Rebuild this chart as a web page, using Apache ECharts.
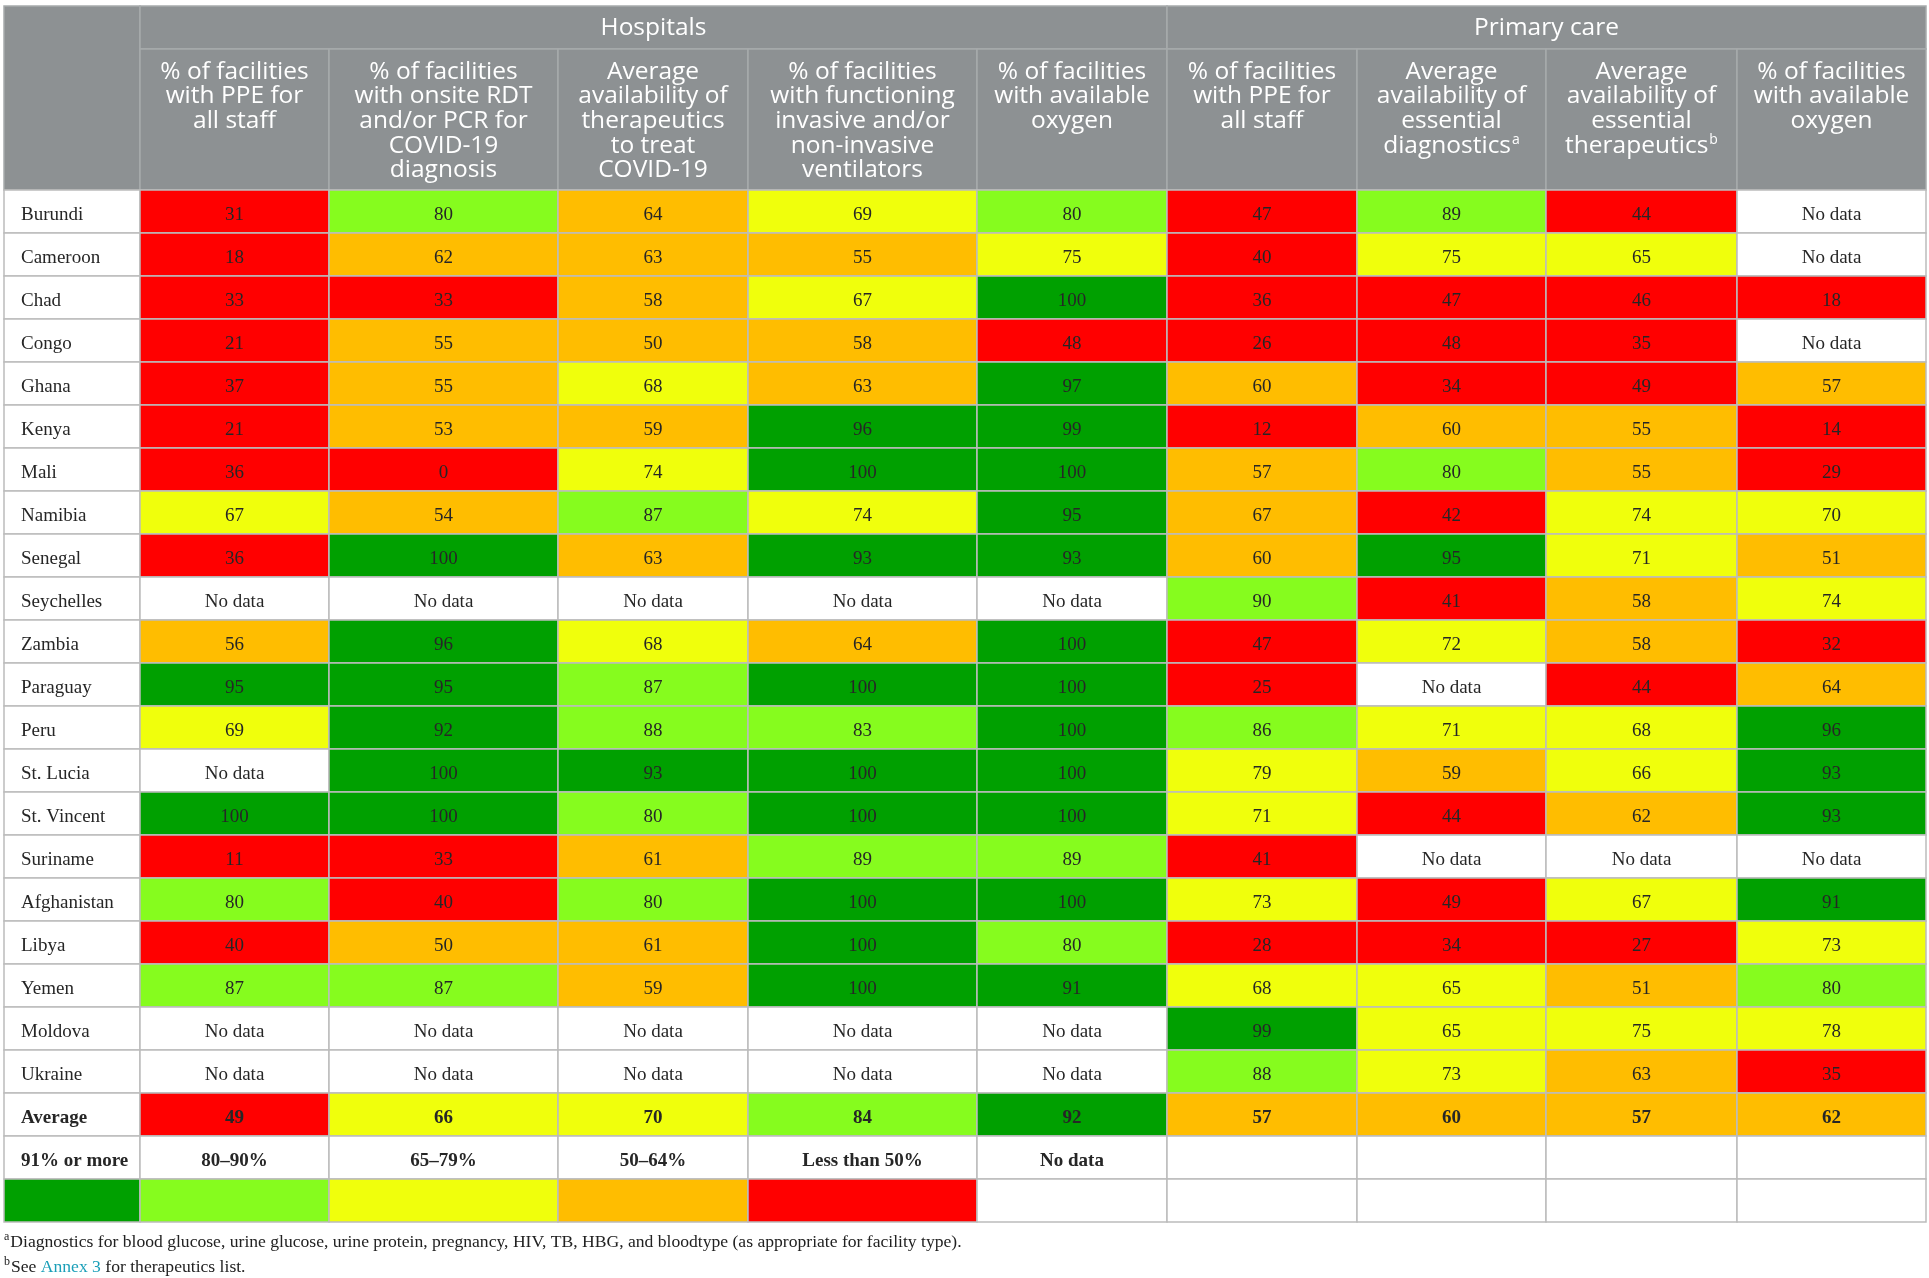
<!DOCTYPE html>
<html>
<head>
<meta charset="utf-8">
<script src="https://cdn.jsdelivr.net/npm/echarts@6/dist/echarts.min.js"></script>
<style>
  html, body { margin: 0; padding: 0; background: #fff; }
  #main { width: 1929px; height: 1278px; }
</style>
</head>
<body>
<div id="main"></div>
<script>
// ---- data ----
var countries = ["Burundi", "Cameroon", "Chad", "Congo", "Ghana", "Kenya", "Mali", "Namibia",
    "Senegal", "Seychelles", "Zambia", "Paraguay", "Peru", "St. Lucia", "St. Vincent",
    "Suriname", "Afghanistan", "Libya", "Yemen", "Moldova", "Ukraine", "Average"];

// Hospitals (null = No data)
var hospPPE  = [31, 18, 33, 21, 37, 21, 36, 67, 36, null, 56, 95, 69, null, 100, 11, 80, 40, 87, null, null, 49];
var hospRDT  = [80, 62, 33, 55, 55, 53, 0, 54, 100, null, 96, 95, 92, 100, 100, 33, 40, 50, 87, null, null, 66];
var hospTher = [64, 63, 58, 50, 68, 59, 74, 87, 63, null, 68, 87, 88, 93, 80, 61, 80, 61, 59, null, null, 70];
var hospVent = [69, 55, 67, 58, 63, 96, 100, 74, 93, null, 64, 100, 83, 100, 100, 89, 100, 100, 100, null, null, 84];
var hospOxy  = [80, 75, 100, 48, 97, 99, 100, 95, 93, null, 100, 100, 100, 100, 100, 89, 100, 80, 91, null, null, 92];

// Primary care
var pcPPE  = [47, 40, 36, 26, 60, 12, 57, 67, 60, 90, 47, 25, 86, 79, 71, 41, 73, 28, 68, 99, 88, 57];
var pcDiag = [89, 75, 47, 48, 34, 60, 80, 42, 95, 41, 72, null, 71, 59, 44, null, 49, 34, 65, 65, 73, 60];
var pcTher = [44, 65, 46, 35, 49, 55, 55, 74, 71, 58, 58, 44, 68, 66, 62, null, 67, 27, 51, 75, 63, 57];
var pcOxy  = [null, null, 18, null, 57, 14, 29, 70, 51, 74, 32, 64, 96, 93, 93, null, 91, 73, 80, 78, 35, 62];

var groupHeaders = ["Hospitals", "Primary care"];
var columnHeaders = [
    "% of facilities\nwith PPE for\nall staff",
    "% of facilities\nwith onsite RDT\nand/or PCR for\nCOVID-19\ndiagnosis",
    "Average\navailability of\ntherapeutics\nto treat\nCOVID-19",
    "% of facilities\nwith functioning\ninvasive and/or\nnon-invasive\nventilators",
    "% of facilities\nwith available\noxygen",
    "% of facilities\nwith PPE for\nall staff",
    "Average\navailability of\nessential\ndiagnostics{sup|a}",
    "Average\navailability of\nessential\ntherapeutics{sup|b}",
    "% of facilities\nwith available\noxygen"
];

var legendLabels = ["91% or more", "80\u201390%", "65\u201379%", "50\u201364%", "Less than 50%", "No data"];
var bandMin = [91, 80, 65, 50, -Infinity];
var bandColors = ["#00a000", "#86fc1e", "#f0ff0c", "#ffbd00", "#ff0000"];
// cell drawn with a different band than its value suggests
var bandOverride = [{ col: 5, country: "Namibia", band: 3 }];

// ---- layout ----
var COL_W = [136, 189, 229, 190, 229, 190, 190, 189, 191, 189];
var GROUP_H = 43;
var HEAD_H = 141;
var ROW_H = 43;
var HEADER_GRAY = "#8d9193";
var GRID_LINE = "#bcbcbc";
var HEAD_LINE = "#a6aaac";

var colEdges = [0];
COL_W.forEach(function (w) { colEdges.push(colEdges[colEdges.length - 1] + w); });
var TOTAL_W = colEdges[colEdges.length - 1];
var BODY_TOP = GROUP_H + HEAD_H;
var TOTAL_H = BODY_TOP + ROW_H * (countries.length + 2);

var valueColumns = [hospPPE, hospRDT, hospTher, hospVent, hospOxy, pcPPE, pcDiag, pcTher, pcOxy];

function bandOf(v) {
    for (var i = 0; i < bandMin.length; i++) {
        if (v >= bandMin[i]) return i;
    }
    return bandMin.length - 1;
}

var serifFont = '"Liberation Serif", "DejaVu Serif", serif';
var sansFont = '"Open Sans", Lato, sans-serif';

// build the cell list
var cells = [];
// header cells
cells.push({ x0: colEdges[0], x1: colEdges[1], y0: 0, y1: BODY_TOP, fill: HEADER_GRAY, stroke: HEAD_LINE, text: "" });
cells.push({ x0: colEdges[1], x1: colEdges[6], y0: 0, y1: GROUP_H, fill: HEADER_GRAY, stroke: HEAD_LINE,
    text: groupHeaders[0], head: "group" });
cells.push({ x0: colEdges[6], x1: colEdges[10], y0: 0, y1: GROUP_H, fill: HEADER_GRAY, stroke: HEAD_LINE,
    text: groupHeaders[1], head: "group" });
columnHeaders.forEach(function (t, i) {
    cells.push({ x0: colEdges[i + 1], x1: colEdges[i + 2], y0: GROUP_H, y1: BODY_TOP, fill: HEADER_GRAY,
        stroke: HEAD_LINE, text: t, head: "col" });
});
// body cells
countries.forEach(function (name, r) {
    var y0 = BODY_TOP + r * ROW_H;
    var bold = name === "Average";
    cells.push({ x0: colEdges[0], x1: colEdges[1], y0: y0, y1: y0 + ROW_H, fill: "#fff", stroke: GRID_LINE,
        text: name, left: true, bold: bold });
    valueColumns.forEach(function (arr, c) {
        var v = arr[r];
        var fill = "#fff";
        if (v !== null) {
            var b = bandOf(v);
            bandOverride.forEach(function (o) {
                if (o.col === c && o.country === name) b = o.band;
            });
            fill = bandColors[b];
        }
        cells.push({ x0: colEdges[c + 1], x1: colEdges[c + 2], y0: y0, y1: y0 + ROW_H, fill: fill,
            stroke: GRID_LINE, text: v === null ? "No data" : String(v), bold: bold });
    });
});
// legend rows
var ly = BODY_TOP + countries.length * ROW_H;
for (var c = 0; c < COL_W.length; c++) {
    var lab = c < legendLabels.length ? legendLabels[c] : "";
    cells.push({ x0: colEdges[c], x1: colEdges[c + 1], y0: ly, y1: ly + ROW_H, fill: "#fff", stroke: GRID_LINE,
        text: lab, bold: true, left: c === 0 });
    cells.push({ x0: colEdges[c], x1: colEdges[c + 1], y0: ly + ROW_H, y1: ly + 2 * ROW_H,
        fill: c < bandColors.length ? bandColors[c] : "#fff", stroke: GRID_LINE, text: "" });
}

function renderCell(params, api) {
    var cell = cells[params.dataIndex];
    var p0 = api.coord([cell.x0, cell.y0]);
    var p1 = api.coord([cell.x1, cell.y1]);
    var w = p1[0] - p0[0], h = p1[1] - p0[1];
    var children = [{
        type: "rect",
        shape: { x: p0[0], y: p0[1], width: w, height: h },
        style: { fill: cell.fill, stroke: cell.stroke, lineWidth: 1.5 }
    }];
    if (cell.text) {
        var style;
        if (cell.head === "group") {
            style = { text: cell.text, x: p0[0] + w / 2, y: p0[1] + h / 2 + 1, align: "center", verticalAlign: "middle",
                fill: "#fff", font: "24.5px " + sansFont };
        } else if (cell.head === "col") {
            style = { text: cell.text, x: p0[0] + w / 2, y: p0[1] + 10.5, align: "center", verticalAlign: "top",
                fill: "#fff", font: "24.5px " + sansFont, lineHeight: 24.6,
                rich: { sup: { fontSize: 14, fontFamily: sansFont, fill: "#fff", verticalAlign: "top",
                    lineHeight: 24.6, padding: [0, 0, 10, 1] } } };
        } else {
            style = { text: cell.text, x: cell.left ? p0[0] + 17 : p0[0] + w / 2, y: p0[1] + h / 2 + 3.5,
                align: cell.left ? "left" : "center", verticalAlign: "middle", fill: "#262626",
                font: (cell.bold ? "bold " : "") + "19px " + serifFont };
        }
        children.push({ type: "text", style: style });
    }
    return { type: "group", children: children };
}

var chart = echarts.init(document.getElementById("main"));
chart.setOption({
    backgroundColor: "#fff",
    animation: false,
    grid: { left: 4, top: 6, width: TOTAL_W, height: TOTAL_H },
    xAxis: { type: "value", min: 0, max: TOTAL_W, show: false },
    yAxis: { type: "value", min: 0, max: TOTAL_H, inverse: true, show: false },
    graphic: [{
        type: "text", left: 4, top: 1231,
        style: {
            text: "{sup|a}{t|Diagnostics for blood glucose, urine glucose, urine protein, pregnancy, HIV, TB, HBG, and bloodtype (as appropriate for facility type).}",
            rich: {
                sup: { fontSize: 12, fontFamily: serifFont, fill: "#222", verticalAlign: "top", padding: [0, 1, 8, 0] },
                t: { fontSize: 17.6, fontFamily: serifFont, fill: "#222", lineHeight: 22 }
            }
        }
    }, {
        type: "text", left: 4, top: 1256,
        style: {
            text: "{sup|b}{t|See }{link|Annex 3}{t| for therapeutics list.}",
            rich: {
                sup: { fontSize: 12, fontFamily: serifFont, fill: "#222", verticalAlign: "top", padding: [0, 1, 8, 0] },
                t: { fontSize: 17.6, fontFamily: serifFont, fill: "#222", lineHeight: 22 },
                link: { fontSize: 17.6, fontFamily: serifFont, fill: "#1a9fb8", lineHeight: 22 }
            }
        }
    }],
    series: [{
        type: "custom",
        renderItem: renderCell,
        clip: false,
        data: cells.map(function (c) { return [c.x0, c.y0, c.x1, c.y1]; }),
        encode: { x: [0, 2], y: [1, 3] },
        silent: true
    }]
});
</script>
</body>
</html>
